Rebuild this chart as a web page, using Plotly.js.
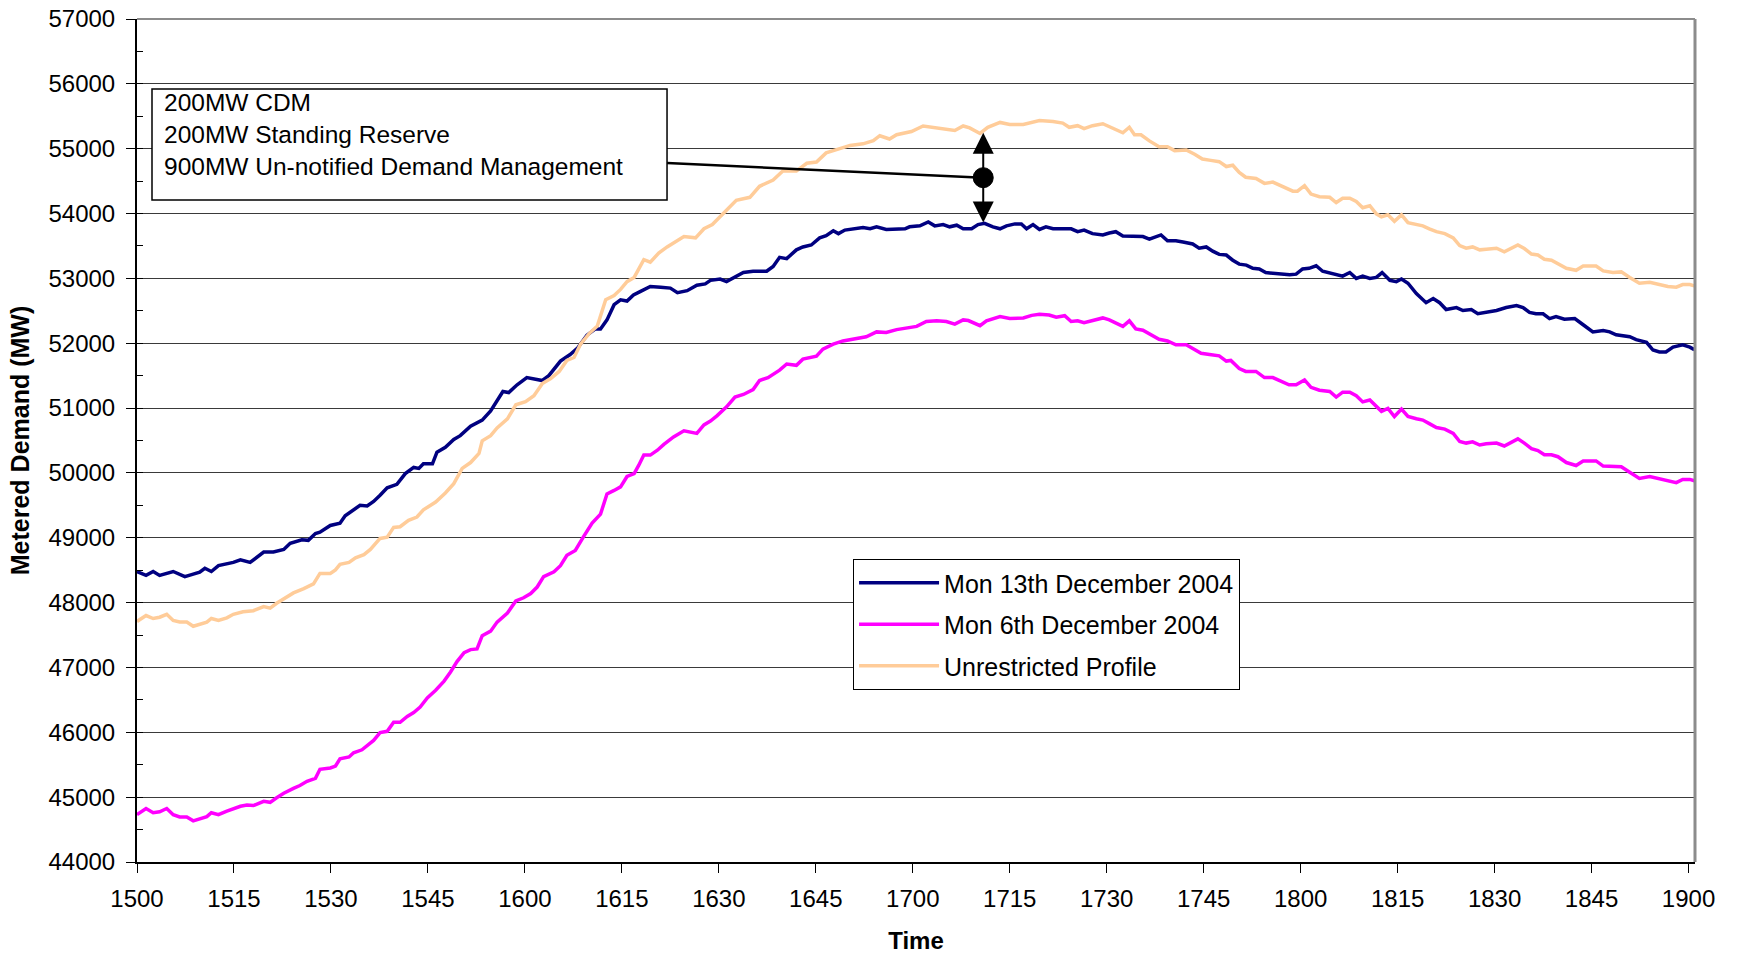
<!DOCTYPE html>
<html><head><meta charset="utf-8">
<script src="https://cdn.plot.ly/plotly-3.0.1.min.js"></script>
<style>html,body{margin:0;padding:0;background:#fff}#chart{width:1737px;height:954px}</style>
</head><body><div id="chart"></div>
<script>
// Minutes after 15:00 and metered demand (MW)
const seriesNames = ['Mon 13th December 2004', 'Mon 6th December 2004', 'Unrestricted Profile'];

const mon13Minutes = [0,1.4,2.5,3.5,5.6,7.4,8.7,9.7,10.5,11.5,12.6,14.9,16,17.5,19.6,21.1,22.7,23.7,25.5,26.5,27.6,28.3,29.9,31.4,32.2,33.5,34.5,35.6,36.6,37.6,38.7,40.2,41.5,42.8,43.6,44.3,45.7,46.4,47.7,49,50,51.6,53.4,54.7,55.7,56.6,57.5,58.8,60.3,61.4,62.7,63.7,65.5,67,68.1,69.6,70.9,71.7,72.7,73.8,74.8,75.8,76.8,77.9,79.4,81,82.5,83.6,85.1,86.6,87.9,88.7,90.2,91.2,92.5,93.8,95.3,97.4,98.4,99.4,100.5,102,103,104.3,105.6,106.6,107.7,108.5,109.5,110.8,112.3,113.4,114.4,115.9,117.5,118.8,119.5,121.1,122.4,123.4,124.7,125.7,126.8,127.8,129.1,130.1,131.1,132.4,133.5,134.5,135.8,136.8,137.6,138.6,139.6,140.6,141.7,143.2,144.5,145.5,146.5,147.8,149.4,150.4,151.4,152.5,154,155.6,156.6,157.6,158.4,159.4,160.7,161.8,163.3,164.3,165.4,166.4,167.4,168.5,169.5,170.5,171.6,172.6,173.6,174.6,176.2,177.5,178.3,179.3,180.3,181.3,182.4,183.4,185.5,186.5,187.6,188.6,189.6,190.7,191.7,192.6,193.8,194.8,195.6,196.6,197.9,199.4,200.5,201.5,202.5,204.1,205.1,206.4,207.4,208.7,210.3,211.8,213.4,214.4,215.4,216.4,217.5,218.5,219.5,220.8,222.4,223.7,225.2,226.8,227.8,228.8,229.8,230.9,231.9,233.5,234.5,235.5,236.5,237.6,239.1,240.2,240.9];
const mon13MW = [48480,48420,48480,48420,48480,48400,48440,48470,48530,48480,48570,48620,48660,48620,48780,48780,48820,48915,48970,48960,49065,49085,49190,49225,49340,49430,49500,49490,49560,49655,49770,49825,49990,50085,50070,50140,50140,50320,50395,50515,50575,50720,50815,50955,51125,51255,51240,51360,51470,51455,51425,51500,51725,51825,51920,52125,52220,52220,52360,52595,52670,52650,52745,52800,52875,52865,52850,52780,52810,52895,52915,52970,52990,52950,53015,53090,53110,53110,53185,53325,53305,53440,53485,53515,53625,53660,53735,53690,53745,53765,53785,53765,53795,53755,53765,53765,53795,53810,53870,53810,53830,53795,53820,53765,53765,53830,53850,53795,53765,53810,53840,53840,53765,53830,53755,53795,53765,53765,53765,53720,53745,53690,53670,53700,53720,53655,53655,53645,53605,53645,53670,53580,53580,53560,53530,53465,53485,53420,53370,53360,53280,53220,53205,53155,53145,53090,53070,53055,53055,53065,53145,53155,53195,53110,53065,53035,53090,53000,53035,53000,53015,53090,52970,52950,52990,52925,52765,52625,52690,52625,52520,52550,52505,52520,52455,52475,52505,52550,52580,52550,52475,52455,52455,52380,52410,52370,52380,52285,52175,52195,52175,52130,52110,52100,52055,52015,51895,51865,51865,51940,51975,51940,51900];

const mon6Minutes = [0,1.4,2.5,3.5,4.6,5.6,6.6,7.7,8.7,9.7,10.8,11.5,12.6,13.9,14.9,16,17,18,19.6,20.6,21.6,22.7,24.2,25.2,26.3,27.6,28.3,29.9,30.7,31.4,32.8,33.5,34.8,35.6,36.6,37.6,38.7,39.7,40.7,41.8,42.8,43.8,44.9,46.2,47.5,48.5,49.5,50.6,51.6,52.6,53.4,54.7,55.7,57.3,58.6,59.8,60.9,61.9,62.9,64.5,65.5,66.5,67.8,69.1,70.4,71.7,72.7,73.8,74.8,75.8,76.9,77.6,78.4,79.4,80.5,81.5,83,84.6,86.6,87.7,88.7,89.7,91.2,92.5,93.8,95.3,96.3,97.6,99.4,100.5,102,103,105.1,106.1,107.7,109.2,111.3,112.8,114.4,115.9,117.5,119,120.6,122.1,123.7,125.2,126.5,127.8,128.6,130.4,131.4,133.5,135,137.1,138.4,139.6,141.1,142.2,143.5,144.5,145.5,146.5,147.8,149.4,150.4,151.4,152.5,153.5,154.5,155.6,156.9,158.1,159.4,160.7,162.3,163.3,164.6,165.9,167.4,168.5,169.2,170.5,171.5,173.1,174.4,175.7,177.2,178.2,179.3,180.6,181.6,182.9,184.5,185.5,186.5,187.6,188.6,189.6,190.7,191.7,192.5,193.5,194.5,195.6,196.6,197.9,198.9,199.9,201,202.3,203.6,204.6,205.6,206.6,207.7,208.7,210.3,211.5,212.6,213.6,214.6,215.7,216.7,217.7,218.8,219.8,221.1,222.6,223.7,225.7,226.8,228.3,229.6,230.9,232.4,234,235.5,236.8,238.1,239.1,240.2,240.9];
const mon6MW = [44730,44825,44760,44775,44825,44730,44695,44695,44635,44665,44700,44760,44730,44785,44825,44860,44880,44870,44935,44920,44990,45060,45135,45180,45245,45290,45430,45450,45480,45590,45620,45685,45730,45790,45875,45995,46015,46155,46155,46245,46305,46390,46530,46650,46790,46930,47090,47230,47275,47285,47490,47560,47700,47840,48025,48075,48140,48240,48400,48475,48570,48730,48805,49020,49225,49365,49675,49730,49785,49945,49990,50115,50275,50275,50350,50440,50555,50650,50610,50740,50800,50880,51020,51170,51210,51285,51425,51470,51585,51680,51660,51755,51800,51910,51985,52035,52070,52100,52175,52165,52210,52230,52260,52335,52345,52335,52295,52360,52350,52270,52345,52410,52380,52390,52430,52445,52435,52400,52425,52335,52345,52315,52350,52390,52360,52315,52260,52345,52220,52200,52125,52060,52035,51975,51975,51920,51845,51825,51805,51725,51735,51610,51565,51565,51470,51470,51405,51360,51360,51435,51320,51275,51255,51170,51245,51245,51190,51095,51125,51020,50950,50995,50870,50985,50870,50835,50815,50760,50700,50675,50610,50485,50460,50480,50430,50450,50460,50415,50470,50525,50460,50375,50345,50280,50280,50250,50160,50115,50185,50185,50105,50095,50095,50010,49915,49945,49910,49890,49850,49900,49900,49880];

const unrestrictedMinutes = [0,1.4,2.5,3.5,4.6,5.6,6.6,7.7,8.7,9.7,10.8,11.5,12.6,13.9,14.9,16.4,18,19.6,20.6,21.6,22.7,24.2,25.8,27.3,28.3,29.9,30.7,31.4,32.8,33.8,35.1,36.1,37.6,38.7,39.7,40.7,42,43.3,44.3,46.2,47.7,49,50.3,51.6,52.9,53.4,54.7,55.7,57.3,58.6,60.1,61.4,62.7,64,65.3,66.5,67.6,68.6,69.9,71.2,72.5,73.8,74.8,75.8,76.9,78.4,79.4,80.7,82,83,84.6,86.4,87.7,89,90.2,91.2,92.7,94.8,96.3,98.4,99.9,102,103.6,105.1,106.6,108.7,110.3,112.3,113.9,114.9,116.4,117.5,119.8,121.6,123.1,125.2,126.5,127.8,128.8,130.4,131.6,133.5,135,137.1,138.4,139.6,141.7,143.2,144.2,145.5,146.5,147.8,149.4,150.7,152.5,153.5,154.3,155.3,156.6,158.1,159.4,160.5,162.3,163.6,164.8,166.1,167.4,168.5,169.5,170.5,171.5,173.1,174.4,175.7,177.2,178.8,179.5,180.6,181.6,182.9,184.5,185.5,186.5,187.6,188.6,189.6,190.7,191.7,192.5,193.5,194.5,195.6,196.6,197.9,198.9,199.9,201,202.3,203.6,204.6,205.6,206.6,207.7,208.7,210.3,211.5,212.6,213.6,214.6,215.7,216.7,217.7,218.8,219.8,221.1,222.6,223.7,225.7,226.8,228.3,229.6,230.9,232.4,234,235.5,236.8,238.1,239.1,240.2,240.9];
const unrestrictedMW = [47710,47800,47755,47775,47820,47725,47700,47700,47635,47670,47700,47755,47725,47765,47820,47860,47875,47940,47915,47990,48055,48150,48215,48290,48450,48450,48505,48590,48620,48690,48740,48820,48990,49010,49160,49170,49270,49320,49430,49550,49690,49835,50070,50160,50300,50495,50575,50695,50835,51050,51100,51190,51380,51455,51565,51735,51780,51985,52145,52265,52670,52735,52830,52950,53015,53290,53250,53390,53485,53550,53645,53625,53765,53830,53955,54045,54205,54250,54420,54515,54655,54655,54775,54795,54935,55000,55050,55075,55125,55200,55150,55215,55265,55350,55330,55310,55280,55350,55320,55235,55330,55405,55375,55375,55410,55435,55420,55395,55330,55355,55310,55355,55385,55330,55245,55330,55215,55215,55120,55030,55030,54970,54980,54915,54840,54820,54800,54725,54745,54635,54560,54540,54465,54485,54410,54345,54345,54430,54300,54260,54250,54170,54235,54235,54185,54090,54120,53995,53950,53980,53880,53980,53860,53830,53810,53765,53720,53690,53625,53505,53465,53485,53440,53450,53465,53410,53465,53515,53460,53375,53360,53295,53280,53220,53155,53125,53190,53190,53115,53090,53100,53015,52925,52940,52905,52875,52865,52905,52905,52885];

const seriesColors = ['#000080', '#FF00FF', '#FFCC99'];

const xTickMinutes = [0,15,30,45,60,75,90,105,120,135,150,165,180,195,210,225,240];
const xTickLabels = ['1500','1515','1530','1545','1600','1615','1630','1645','1700','1715','1730','1745','1800','1815','1830','1845','1900'];

const noteLines = ['200MW CDM', '200MW Standing Reserve', '900MW Un-notified Demand Management'];
// callout: vertical double arrow at ~17:11 between the two peaks
const calloutMinute = 130.9;
const calloutTopMW = 55247;
const calloutBottomMW = 53839;
const calloutDotMW = 54553;
const calloutStartMinute = 82;
const calloutStartMW = 54780;

const FONT = 'Liberation Sans, Arial, sans-serif';

const xs = [mon13Minutes, mon6Minutes, unrestrictedMinutes];
const ys = [mon13MW, mon6MW, unrestrictedMW];
const traces = seriesNames.map((name, i) => ({
  type: 'scatter', mode: 'lines', name: name,
  x: xs[i], y: ys[i],
  line: {color: seriesColors[i], width: 3.5},
  legendgroup: 'g' + i
}));

const layout = {
  width: 1737, height: 954,
  margin: {l: 137, r: 42, t: 19, b: 92},
  paper_bgcolor: '#ffffff', plot_bgcolor: '#ffffff',
  font: {family: FONT, size: 24, color: '#000'},
  showlegend: true,
  legend: {
    x: 0.4596, y: 0.3594, xanchor: 'left', yanchor: 'top',
    bgcolor: '#ffffff', bordercolor: '#000', borderwidth: 1,
    font: {family: FONT, size: 25, color: '#000'},
    traceorder: 'grouped', tracegroupgap: 6, itemwidth: 80, entrywidth: 436
  },
  xaxis: {
    range: [0, 241], tickmode: 'array', tickvals: xTickMinutes, ticktext: xTickLabels,
    ticks: 'outside', ticklen: 9, tickwidth: 1, tickcolor: '#000',
    showline: true, linecolor: '#000', linewidth: 2,
    showgrid: false, zeroline: false, ticklabelstandoff: 5,
    tickfont: {family: FONT, size: 24, color: '#000'},
    title: {text: 'Time', font: {family: FONT, size: 24, weight: 'bold', color: '#000'}, standoff: 24}
  },
  yaxis: {
    range: [44000, 57000], tick0: 44000, dtick: 1000, tickformat: 'd',
    ticks: 'outside', ticklen: 9, tickwidth: 1, tickcolor: '#000',
    showline: true, linecolor: '#000', linewidth: 2,
    showgrid: true, gridcolor: '#3a3a3a', gridwidth: 1, zeroline: false, ticklabelstandoff: 6,
    minor: {tick0: 44000, dtick: 500, ticks: 'inside', ticklen: 6, tickwidth: 1, tickcolor: '#000', showgrid: false},
    tickfont: {family: FONT, size: 24, color: '#000'},
    title: {text: 'Metered Demand (MW)', font: {family: FONT, size: 25, weight: 'bold', color: '#000'}, standoff: 12}
  },
  shapes: [
    {type: 'line', xref: 'paper', yref: 'paper', x0: 0, x1: 1, y0: 1, y1: 1, line: {color: '#8c8c8c', width: 2}},
    {type: 'line', xref: 'paper', yref: 'paper', x0: 1, x1: 1, y0: 0, y1: 1, line: {color: '#8c8c8c', width: 3}},
    {type: 'rect', xref: 'paper', yref: 'paper', x0: 0.00963, x1: 0.3402, y0: 0.7853, y1: 0.9170,
     line: {color: '#000', width: 1.5}, fillcolor: '#ffffff', layer: 'above'},
    {type: 'line', xref: 'x', yref: 'y', x0: calloutStartMinute, y0: calloutStartMW, x1: calloutMinute, y1: calloutDotMW,
     line: {color: '#000', width: 2.5}},
    {type: 'circle', xref: 'x', yref: 'y', xsizemode: 'pixel', ysizemode: 'pixel',
     xanchor: calloutMinute, yanchor: calloutDotMW, x0: -10, x1: 10, y0: -10, y1: 10,
     fillcolor: '#000', line: {color: '#000', width: 1}}
  ],
  annotations: [
    {xref: 'paper', yref: 'paper', x: 0.0160, y: 0.919, xanchor: 'left', yanchor: 'top',
     align: 'left', showarrow: false, text: noteLines.join('<br>'),
     font: {family: FONT, size: 24.5, color: '#000'}},
    {xref: 'x', yref: 'y', axref: 'x', ayref: 'y', x: calloutMinute, y: calloutTopMW,
     ax: calloutMinute, ay: calloutBottomMW, text: '', showarrow: true,
     arrowhead: 2, arrowside: 'end+start', arrowwidth: 2, arrowsize: 2.1, arrowcolor: '#000'}
  ]
};

Plotly.newPlot('chart', traces, layout, {staticPlot: true, displayModeBar: false});
</script></body></html>
